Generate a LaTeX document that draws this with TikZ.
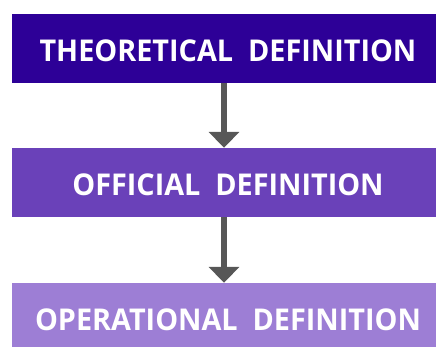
\documentclass[tikz,border=0pt]{standalone}
\usepackage{fontspec}
\setmainfont{Open Sans}
\newfontfamily\deffont[FakeStretch=0.96]{Open Sans}
\usetikzlibrary{arrows.meta}

\definecolor{defdark}{HTML}{2d0097}
\definecolor{defmid}{HTML}{6a41b9}
\definecolor{deflight}{HTML}{9d7ed5}
\definecolor{defarrow}{HTML}{575757}

\tikzset{
  defbox/.style={minimum width=424pt, minimum height=69pt, inner sep=0pt,
    text height=26pt, text depth=0pt, text=white,
    font=\deffont\fontsize{30}{30}\selectfont\bfseries},
  defflow/.style={defarrow, line width=6pt, -{Triangle[width=30pt,length=16pt]}}
}

\begin{document}
\begin{tikzpicture}[x=1pt, y=-1pt]
  \useasboundingbox (0,0) rectangle (436,346);
  \node[defbox, fill=defdark] (theory) at (224,48.5) {\hspace*{8pt}THEORETICAL\ \ DEFINITION};
  \node[defbox, fill=defmid] (official) at (224,182.5) {\hspace*{8pt}OFFICIAL\ \ DEFINITION};
  \node[defbox, fill=deflight] (operational) at (224,317.5) {\hspace*{8pt}OPERATIONAL\ \ DEFINITION};
  \draw[defflow] (theory) to (official);
  \draw[defflow] (official) to (operational);
\end{tikzpicture}
\end{document}
